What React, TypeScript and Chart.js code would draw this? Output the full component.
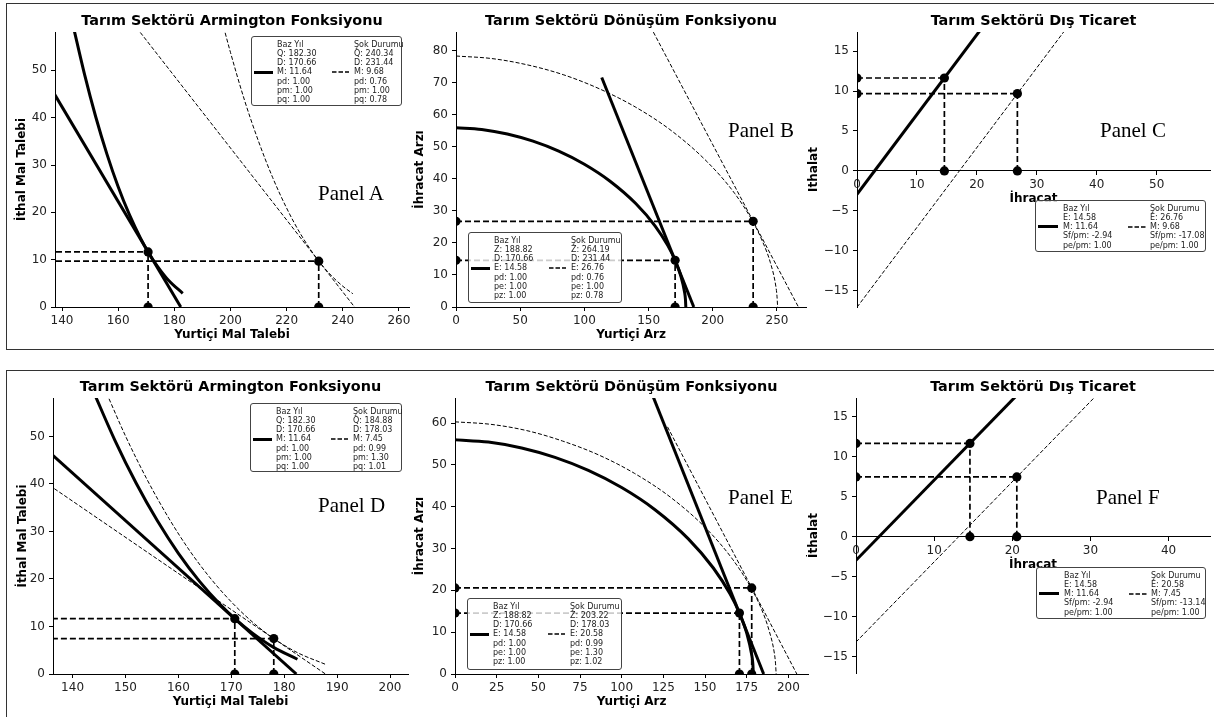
import React, { useEffect, useRef } from "react";
import { Chart, registerables } from "chart.js";
Chart.register(...registerables);

const FONT = "'DejaVu Sans', 'Noto Sans', sans-serif";

// ---------- Panel A (Armington, base vs shock) ----------
const aBaseCurveD = [144, 148, 152, 156, 160, 164, 168, 170.66, 174, 178, 183];
const aBaseCurveM = [59.3, 49.2, 40.2, 32.3, 25.4, 19.5, 14.5, 11.64, 8.6, 5.6, 2.9];
const aBaseLineD = [130, 182.3];
const aBaseLineM = [52.3, 0];
const aShockCurveD = [197, 200, 205, 210, 215, 220, 225, 231.44, 236, 240, 243.6];
const aShockCurveM = [60.4, 53.8, 43.7, 35.0, 27.4, 20.9, 15.4, 9.7, 6.6, 4.4, 2.8];
const aShockLineD = [160, 244.2];
const aShockLineM = [64.0, 0];
const aBasePoint = [170.66, 11.64];
const aShockPoint = [231.44, 9.68];

// ---------- Panel B (Dönüşüm / CET) ----------
const bBaseCurveD = [0, 20, 40, 60, 80, 100, 120, 140, 155, 165, 170.66, 175, 178, 178.7, 179];
const bBaseCurveE = [56, 55.46, 54.04, 51.79, 48.68, 44.59, 39.29, 32.32, 25.35, 19.17, 14.58, 9.83, 4.65, 2.42, 0];
const bBaseLineD = [113.5, 185.2];
const bBaseLineE = [71.7, 0];
const bShockCurveD = [0, 28, 56, 84, 112, 140, 168, 196, 217, 231, 238.8, 244.9, 249.1, 250.0, 250.5];
const bShockCurveE = [78.4, 77.6, 75.6, 72.5, 68.1, 62.4, 55.0, 45.2, 35.5, 26.8, 20.4, 13.8, 6.5, 3.4, 0];
const bShockLineD = [145, 266.7];
const bShockLineE = [92.5, 0];
const bBasePoint = [170.66, 14.58];
const bShockPoint = [231.44, 26.76];

// ---------- Panel C (Dış Ticaret) ----------
const cBaseLineE = [0, 22];
const cBaseLineM = [-2.94, 19.06];
const cShockLineE = [0, 36];
const cShockLineM = [-17.08, 18.92];
const cBasePoint = [14.58, 11.64];
const cShockPoint = [26.76, 9.68];

// ---------- Panel D (Armington, second shock) ----------
const dBaseCurveD = [144, 148, 152, 156, 160, 164, 168, 170.66, 174, 178, 182.5];
const dBaseCurveM = [59.3, 49.2, 40.2, 32.3, 25.4, 19.5, 14.5, 11.64, 8.6, 5.6, 3.1];
const dBaseLineD = [130, 182.3];
const dBaseLineM = [52.3, 0];
const dShockCurveD = [146.44, 150.09, 154.15, 158.21, 162.26, 166.32, 170.38, 174.43, 178.49, 182.55, 187.72];
const dShockCurveM = [59.08, 49.89, 40.79, 32.76, 25.76, 19.8, 14.75, 10.53, 7.13, 4.47, 2.07];
const dShockLineD = [130, 187.8];
const dShockLineM = [44.0, 0];
const dBasePoint = [170.66, 11.64];
const dShockPoint = [178.03, 7.45];

// ---------- Panel E (Dönüşüm, second shock) ----------
const eBaseCurveD = [0, 20, 40, 60, 80, 100, 120, 140, 155, 165, 170.66, 175, 178, 178.7, 179];
const eBaseCurveE = [56, 55.46, 54.04, 51.79, 48.68, 44.59, 39.29, 32.32, 25.35, 19.17, 14.58, 9.83, 4.65, 2.42, 0];
const eBaseLineD = [113.5, 185.2];
const eBaseLineE = [71.7, 0];
const eShockCurveD = [0, 21.5, 43.1, 64.6, 86.1, 107.6, 129.2, 150.7, 166.8, 177.6, 183.7, 188.3, 191.6, 192.3, 192.7];
const eShockCurveE = [60.3, 59.7, 58.2, 55.7, 52.4, 48.0, 42.3, 34.8, 27.3, 20.6, 15.7, 10.6, 5.0, 2.6, 0];
const eShockLineD = [127.5, 205.1];
const eShockLineE = [59.1, 0];
const eBasePoint = [170.66, 14.58];
const eShockPoint = [178.03, 20.58];

// ---------- Panel F (Dış Ticaret, second shock) ----------
const fBaseLineE = [0, 22];
const fBaseLineM = [-2.94, 19.06];
const fShockLineE = [0, 32];
const fShockLineM = [-13.14, 18.86];
const fBasePoint = [14.58, 11.64];
const fShockPoint = [20.58, 7.45];

// ---------- Legend texts ----------
const aLegendBase = ["Baz Yıl", "Q: 182.30", "D: 170.66", "M: 11.64", "pd: 1.00", "pm: 1.00", "pq: 1.00"];
const aLegendShock = ["Şok Durumu", "Q: 240.34", "D: 231.44", "M: 9.68", "pd: 0.76", "pm: 1.00", "pq: 0.78"];
const bLegendBase = ["Baz Yıl", "Z: 188.82", "D: 170.66", "E: 14.58", "pd: 1.00", "pe: 1.00", "pz: 1.00"];
const bLegendShock = ["Şok Durumu", "Z: 264.19", "D: 231.44", "E: 26.76", "pd: 0.76", "pe: 1.00", "pz: 0.78"];
const cLegendBase = ["Baz Yıl", "E: 14.58", "M: 11.64", "Sf/pm: -2.94", "pe/pm: 1.00"];
const cLegendShock = ["Şok Durumu", "E: 26.76", "M: 9.68", "Sf/pm: -17.08", "pe/pm: 1.00"];
const dLegendBase = ["Baz Yıl", "Q: 182.30", "D: 170.66", "M: 11.64", "pd: 1.00", "pm: 1.00", "pq: 1.00"];
const dLegendShock = ["Şok Durumu", "Q: 184.88", "D: 178.03", "M: 7.45", "pd: 0.99", "pm: 1.30", "pq: 1.01"];
const eLegendBase = ["Baz Yıl", "Z: 188.82", "D: 170.66", "E: 14.58", "pd: 1.00", "pe: 1.00", "pz: 1.00"];
const eLegendShock = ["Şok Durumu", "Z: 203.22", "D: 178.03", "E: 20.58", "pd: 0.99", "pe: 1.30", "pz: 1.02"];
const fLegendBase = ["Baz Yıl", "E: 14.58", "M: 11.64", "Sf/pm: -2.94", "pe/pm: 1.00"];
const fLegendShock = ["Şok Durumu", "E: 20.58", "M: 7.45", "Sf/pm: -13.14", "pe/pm: 1.00"];

const titleArm = "Tarım Sektörü Armington Fonksiyonu";
const titleCet = "Tarım Sektörü Dönüşüm Fonksiyonu";
const titleTrade = "Tarım Sektörü Dış Ticaret";

type XY = { x: number; y: number };
const zip = (xs: number[], ys: number[]): XY[] => xs.map((x, i) => ({ x, y: ys[i] }));

type Spec = {
  rect: { L: number; T: number; R: number; B: number };
  xr: number[]; // min, max, step
  yr: number[];
  xTitle: string;
  yTitle: string;
  yTitlePad: number;
  centerX: boolean;
  lines: { data: XY[]; solid: boolean; curve: boolean }[];
  base: number[];
  shock: number[];
  title: string;
  titleY: number;
  label: string;
  labelX: number;
  labelY: number;
  legend: { x: number; y: number; w: number; h: number; trade: boolean; c1: string[]; c2: string[] };
};

const panels: Spec[] = [
  {
    rect: { L: 55, T: 32, R: 409, B: 307 }, xr: [137.5, 263.6, 20], yr: [0, 58.1, 10],
    xTitle: "Yurtiçi Mal Talebi", yTitle: "İthal Mal Talebi", yTitlePad: 9.5, centerX: false,
    lines: [
      { data: zip(aBaseCurveD, aBaseCurveM), solid: true, curve: true },
      { data: zip(aBaseLineD, aBaseLineM), solid: true, curve: false },
      { data: zip(aShockCurveD, aShockCurveM), solid: false, curve: true },
      { data: zip(aShockLineD, aShockLineM), solid: false, curve: false },
    ],
    base: aBasePoint, shock: aShockPoint, title: titleArm, titleY: 20,
    label: "Panel A", labelX: 318, labelY: 193,
    legend: { x: 251, y: 36, w: 151, h: 70, trade: false, c1: aLegendBase, c2: aLegendShock },
  },
  {
    rect: { L: 456, T: 32, R: 806, B: 307 }, xr: [0, 272.6, 50], yr: [0, 85.9, 10],
    xTitle: "Yurtiçi Arz", yTitle: "İhracat Arzı", yTitlePad: 6.8, centerX: false,
    lines: [
      { data: zip(bBaseCurveD, bBaseCurveE), solid: true, curve: true },
      { data: zip(bBaseLineD, bBaseLineE), solid: true, curve: false },
      { data: zip(bShockCurveD, bShockCurveE), solid: false, curve: true },
      { data: zip(bShockLineD, bShockLineE), solid: false, curve: false },
    ],
    base: bBasePoint, shock: bShockPoint, title: titleCet, titleY: 20,
    label: "Panel B", labelX: 728, labelY: 130,
    legend: { x: 468, y: 232, w: 154, h: 71, trade: false, c1: bLegendBase, c2: bLegendShock },
  },
  {
    rect: { L: 857, T: 32, R: 1210, B: 307 }, xr: [0, 58.9, 10], yr: [-17.05, 17.4, 5],
    xTitle: "İhracat", yTitle: "İthalat", yTitlePad: 0, centerX: true,
    lines: [
      { data: zip(cBaseLineE, cBaseLineM), solid: true, curve: false },
      { data: zip(cShockLineE, cShockLineM), solid: false, curve: false },
    ],
    base: cBasePoint, shock: cShockPoint, title: titleTrade, titleY: 20,
    label: "Panel C", labelX: 1100, labelY: 130,
    legend: { x: 1035, y: 200, w: 171, h: 52, trade: true, c1: cLegendBase, c2: cLegendShock },
  },
  {
    rect: { L: 53, T: 398, R: 408, B: 674 }, xr: [136.3, 203.4, 10], yr: [0, 58.1, 10],
    xTitle: "Yurtiçi Mal Talebi", yTitle: "İthal Mal Talebi", yTitlePad: 13.1, centerX: false,
    lines: [
      { data: zip(dBaseCurveD, dBaseCurveM), solid: true, curve: true },
      { data: zip(dBaseLineD, dBaseLineM), solid: true, curve: false },
      { data: zip(dShockCurveD, dShockCurveM), solid: false, curve: true },
      { data: zip(dShockLineD, dShockLineM), solid: false, curve: false },
    ],
    base: dBasePoint, shock: dShockPoint, title: titleArm, titleY: 386,
    label: "Panel D", labelX: 318, labelY: 505,
    legend: { x: 250, y: 403, w: 152, h: 69, trade: false, c1: dLegendBase, c2: dLegendShock },
  },
  {
    rect: { L: 455, T: 398, R: 808, B: 674 }, xr: [0, 211.8, 25], yr: [0, 66, 10],
    xTitle: "Yurtiçi Arz", yTitle: "İhracat Arzı", yTitlePad: 7.8, centerX: false,
    lines: [
      { data: zip(eBaseCurveD, eBaseCurveE), solid: true, curve: true },
      { data: zip(eBaseLineD, eBaseLineE), solid: true, curve: false },
      { data: zip(eShockCurveD, eShockCurveE), solid: false, curve: true },
      { data: zip(eShockLineD, eShockLineE), solid: false, curve: false },
    ],
    base: eBasePoint, shock: eShockPoint, title: titleCet, titleY: 386,
    label: "Panel E", labelX: 728, labelY: 497,
    legend: { x: 467, y: 598, w: 155, h: 72, trade: false, c1: eLegendBase, c2: eLegendShock },
  },
  {
    rect: { L: 856, T: 398, R: 1210, B: 673 }, xr: [0, 45.3, 10], yr: [-17.0, 17.3, 5],
    xTitle: "İhracat", yTitle: "İthalat", yTitlePad: 0.8, centerX: true,
    lines: [
      { data: zip(fBaseLineE, fBaseLineM), solid: true, curve: false },
      { data: zip(fShockLineE, fShockLineM), solid: false, curve: false },
    ],
    base: fBasePoint, shock: fShockPoint, title: titleTrade, titleY: 386,
    label: "Panel F", labelX: 1096, labelY: 497,
    legend: { x: 1036, y: 567, w: 170, h: 52, trade: true, c1: fLegendBase, c2: fLegendShock },
  },
];

const YW = 50;
const XH = 45;
const PT = 10;
const PR = 10;

function fmtTick(v: any) {
  const n = Number(v);
  const s = String(Math.round(Math.abs(n) * 1000) / 1000);
  return n < 0 ? "\u2212" + s : s;
}

function buildChart(canvas: HTMLCanvasElement, p: Spec) {
  const datasets: any[] = [];
  const [bx, by] = p.base;
  const [sx, sy] = p.shock;
  datasets.push({
    data: [
      { x: bx, y: by }, { x: 0, y: by }, { x: bx, y: 0 },
      { x: sx, y: sy }, { x: 0, y: sy }, { x: sx, y: 0 },
    ],
    showLine: false, pointRadius: 4.6, pointBackgroundColor: "#000", pointBorderWidth: 0, clip: 0,
  });
  const guide = (d: XY[]) => ({
    data: d, showLine: true, pointRadius: 0, borderColor: "#000", borderWidth: 1.7,
    borderDash: [6, 3], clip: 0, tension: 0,
  });
  datasets.push(guide([{ x: 0, y: by }, { x: bx, y: by }]));
  datasets.push(guide([{ x: bx, y: 0 }, { x: bx, y: by }]));
  datasets.push(guide([{ x: 0, y: sy }, { x: sx, y: sy }]));
  datasets.push(guide([{ x: sx, y: 0 }, { x: sx, y: sy }]));
  p.lines.forEach((l) => {
    datasets.push({
      data: l.data, showLine: true, pointRadius: 0, borderColor: "#000",
      borderWidth: l.solid ? 3 : 1, borderDash: l.solid ? [] : [4, 2],
      cubicInterpolationMode: l.curve ? "monotone" : "default", tension: 0, clip: 0,
    });
  });

  const fixY = (s: any) => {
    s.width = YW; s.paddingTop = 0; s.paddingBottom = 0; s.paddingLeft = 0; s.paddingRight = 0;
  };
  const fixX = (s: any) => {
    s.height = XH; s.paddingTop = 0; s.paddingBottom = 0; s.paddingLeft = 0; s.paddingRight = 0;
  };
  const tickFont = { family: FONT, size: 12 };
  const axFont = { family: FONT, size: 12, weight: "bold" as const };
  const grid = { display: true, drawOnChartArea: false, drawTicks: true, tickLength: 4, color: "#000", lineWidth: 1 };
  const border = { display: true, color: "#000", width: 1 };

  return new Chart(canvas, {
    type: "scatter",
    data: { datasets },
    options: {
      responsive: false,
      animation: false,
      devicePixelRatio: 1,
      events: [],
      layout: { padding: { left: 0, top: PT, right: PR, bottom: p.centerX ? XH : 0 } },
      plugins: { legend: { display: false }, tooltip: { enabled: false }, title: { display: false } },
      scales: {
        x: {
          type: "linear",
          position: p.centerX ? ({ y: 0 } as any) : "bottom",
          min: p.xr[0], max: p.xr[1],
          ticks: {
            stepSize: p.xr[2], includeBounds: false, autoSkip: false, maxRotation: 0,
            padding: 3, color: "#222", font: tickFont, callback: fmtTick,
          },
          grid, border,
          title: { display: true, text: p.xTitle, font: axFont, color: "#000", padding: { top: 0, bottom: 9.5 } },
          afterFit: fixX,
        },
        y: {
          type: "linear", position: "left",
          min: p.yr[0], max: p.yr[1],
          ticks: {
            stepSize: p.yr[2], includeBounds: false, autoSkip: false,
            padding: 4, color: "#222", font: tickFont, callback: fmtTick,
          },
          grid, border,
          title: { display: true, text: p.yTitle, font: axFont, color: "#000", padding: { top: p.yTitlePad, bottom: 0 } },
          afterFit: fixY,
        },
      },
    } as any,
  });
}

function PanelChart({ p }: { p: Spec }) {
  const ref = useRef<HTMLCanvasElement>(null);
  const { L, T, R, B } = p.rect;
  const W = R - L + YW + PR;
  const H = B - T + PT + XH;
  useEffect(() => {
    const chart = buildChart(ref.current as HTMLCanvasElement, p);
    return () => chart.destroy();
  }, []);
  return (
    <canvas
      ref={ref}
      width={W}
      height={H}
      style={{ position: "absolute", left: L - YW, top: T - PT, width: W, height: H }}
    />
  );
}

function Legend({ lg }: { lg: Spec["legend"] }) {
  const LH = 9.3;
  const topPad = 2.5;
  const n = lg.c1.length;
  const cy = topPad + (n * LH) / 2;
  const h1 = lg.trade ? { l: 2, w: 20 } : { l: 2, w: 19 };
  const t1 = lg.trade ? 27 : 25;
  const h2 = lg.trade ? { l: 92, w: 18 } : { l: 80, w: 17 };
  const t2 = lg.trade ? 114 : 102;
  const textStyle: React.CSSProperties = {
    position: "absolute", top: topPad, lineHeight: LH + "px", whiteSpace: "pre",
    fontFamily: FONT, fontSize: 8, color: "#222",
  };
  return (
    <div
      style={{
        position: "absolute", left: lg.x, top: lg.y, width: lg.w, height: lg.h,
        boxSizing: "border-box", border: "1px solid #444", borderRadius: 3,
        background: "rgba(255,255,255,0.8)",
      }}
    >
      <div style={{ position: "absolute", left: h1.l, top: cy - 1.5, width: h1.w, height: 3, background: "#000" }} />
      <div style={{ ...textStyle, left: t1 }}>{lg.c1.join("\n")}</div>
      <svg style={{ position: "absolute", left: h2.l, top: cy - 2 }} width={h2.w} height={4}>
        <line x1={0} y1={2} x2={h2.w} y2={2} stroke="#000" strokeWidth={1.3} strokeDasharray="4.5 2" />
      </svg>
      <div style={{ ...textStyle, left: t2 }}>{lg.c2.join("\n")}</div>
    </div>
  );
}

export default function App() {
  return (
    <div
      style={{
        position: "absolute", left: 0, top: 0, width: 1214, height: 717,
        overflow: "hidden", background: "#fff",
      }}
    >
      <div style={{ position: "absolute", left: 6, top: 3, width: 1220, height: 347, border: "1.5px solid #333", boxSizing: "border-box" }} />
      <div style={{ position: "absolute", left: 6, top: 370, width: 1220, height: 360, border: "1.5px solid #333", boxSizing: "border-box" }} />
      {panels.map((p, i) => (
        <PanelChart key={"c" + i} p={p} />
      ))}
      {panels.map((p, i) => {
        const cx = (p.rect.L + p.rect.R) / 2;
        return (
          <React.Fragment key={"o" + i}>
            <div
              style={{
                position: "absolute", left: cx - 200, width: 400, top: p.titleY - 10, height: 20,
                lineHeight: "20px", textAlign: "center", fontFamily: FONT, fontWeight: "bold",
                fontSize: 14.4, color: "#000", whiteSpace: "nowrap",
              }}
            >
              {p.title}
            </div>
            <div
              style={{
                position: "absolute", left: p.labelX, top: p.labelY - 12, height: 24, lineHeight: "24px",
                fontFamily: "'Liberation Serif', 'Times New Roman', serif", fontSize: 21, color: "#000",
                whiteSpace: "nowrap",
              }}
            >
              {p.label}
            </div>
            <Legend lg={p.legend} />
          </React.Fragment>
        );
      })}
    </div>
  );
}
